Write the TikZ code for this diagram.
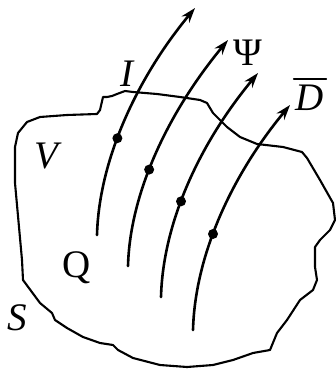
\documentclass[tikz,border=0pt]{standalone}
\usepackage{fontspec}
\setmainfont{Liberation Serif}
\usetikzlibrary{arrows.meta}

\tikzset{
  fluxline/.style={-{Stealth[length=15pt,width=10pt]},line width=2.6pt},
  dot/.style={circle,fill=black,inner sep=0pt,minimum size=10pt},
  rim/.style={line width=2.1pt,line join=round},
  lbl/.style={font=\fontsize{39}{46}\selectfont,inner sep=0pt}
}

\begin{document}
\begin{tikzpicture}[x=1pt,y=-1pt,line cap=round]
\useasboundingbox (0,0) rectangle (336,371);
% surface S around the volume V
\draw[rim] (97,114) -- (100,110) -- (103,97) -- (107,97) -- (112,96) -- (117,94)
  -- (125,91) -- (133,92) -- (157,94) -- (180,97) -- (200,100) -- (207,103)
  -- (213,113) -- (227,127) -- (240,137) -- (257,144) -- (283,147) -- (302,152)
  -- (307,158) -- (320,180) -- (333,203) -- (335,220) -- (330,230) -- (320,240)
  -- (315,247) -- (315,267) -- (317,280) -- (313,290) -- (300,300) -- (287,320)
  -- (277,333) -- (270,350) -- (253,353) -- (233,360) -- (213,365) -- (187,367)
  -- (160,365) -- (133,358) -- (118,350) -- (113,345) -- (100,343) -- (83,337)
  -- (67,328) -- (55,320) -- (52,313) -- (40,303) -- (23,280) -- (22,260)
  -- (15,183) -- (15,147) -- (18,133) -- (27,122) -- (40,117) -- (67,115) -- cycle;
% flux lines
\coordinate (a1) at (97,235);  \coordinate (b1) at (195,8);
\coordinate (a2) at (128,266); \coordinate (b2) at (228,40);
\coordinate (a3) at (161,297); \coordinate (b3) at (258,73);
\coordinate (a4) at (193,330); \coordinate (b4) at (290,105);
\draw[fluxline] (a1) .. controls ++(2,-75) and ++(-58,70) .. (b1) node[dot,pos=0.42] (d1) {};
\draw[fluxline] (a2) .. controls ++(2,-75) and ++(-58,70) .. (b2) node[dot,pos=0.42] (d2) {};
\draw[fluxline] (a3) .. controls ++(2,-75) and ++(-58,70) .. (b3) node[dot,pos=0.42] (d3) {};
\draw[fluxline] (a4) .. controls ++(2,-75) and ++(-58,70) .. (b4) node[dot,pos=0.42] (d4) {};
% labels
\node[lbl] (lI) at (128,74) {\textit{I}};
\node[lbl] (lPsi) at (248,53) {Ψ};
\node[lbl] (lD) at (310,98) {\textit{D}};
\draw[line width=1.8pt] ([xshift=-2pt,yshift=6pt]lD.north west) -- ([xshift=2pt,yshift=6pt]lD.north east);
\node[lbl] (lV) at (48,156) {\textit{V}};
\node[lbl] (lQ) at (77,268) {Q};
\node[lbl] (lS) at (17,318) {\textit{S}};
\end{tikzpicture}
\end{document}
